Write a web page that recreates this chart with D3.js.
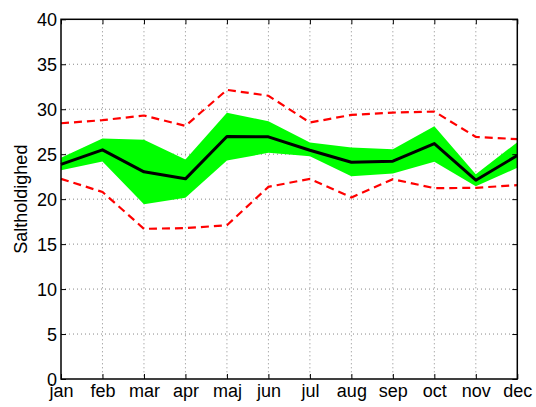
<!DOCTYPE html>
<html><head><meta charset="utf-8">
<script src="https://cdn.jsdelivr.net/npm/d3@7"></script>
<style>body{margin:0;background:#fff}svg{display:block}text{font-family:"Liberation Sans",Arial,sans-serif}</style>
</head><body>
<script>
const months = ["jan","feb","mar","apr","maj","jun","jul","aug","sep","oct","nov","dec"];
const meanVals = [23.86,25.48,23.04,22.26,26.96,26.93,25.44,24.11,24.22,26.18,22.11,24.85];
const bandUpper = [24.6,26.74,26.6,24.4,29.6,28.67,26.3,25.74,25.55,28.1,22.78,26.33];
const bandLower = [23.2,24.2,19.44,20.15,24.3,25.15,24.78,22.55,22.85,24.15,21.44,23.48];
const redUpper = [28.44,28.78,29.3,28.15,32.15,31.5,28.52,29.37,29.63,29.74,26.93,26.67];
const redLower = [22.26,20.8,16.7,16.78,17.1,21.37,22.26,20.19,22.22,21.22,21.26,21.56];
const yTicks = [0,5,10,15,20,25,30,35,40];
const yLabel = "Saltholdighed";

const W=536,H=407, L=61, R=517.3, T=19.3, B=379;
const FS=18;
const svg=d3.select("body").append("svg").attr("width",W).attr("height",H);
const x=d3.scalePoint().domain(months).range([L,R]);
const y=d3.scaleLinear().domain([0,40]).range([B,T]);

// grid
const g=svg.append("g");
g.selectAll(".vg").data(months.slice(1,-1)).enter().append("line")
 .attr("x1",d=>x(d)).attr("x2",d=>x(d)).attr("y1",T).attr("y2",B)
 .attr("stroke","#888").attr("stroke-width",1).attr("stroke-dasharray","1,3");
g.selectAll(".hg").data(yTicks.slice(1,-1)).enter().append("line")
 .attr("x1",L).attr("x2",R).attr("y1",d=>y(d)).attr("y2",d=>y(d))
 .attr("stroke","#888").attr("stroke-width",1).attr("stroke-dasharray","1,3");

const idx=d3.range(months.length);
svg.append("path").datum(idx)
 .attr("d",d3.area().x(i=>x(months[i])).y0(i=>y(bandLower[i])).y1(i=>y(bandUpper[i])))
 .attr("fill","#00ff00");
const line=arr=>d3.line().x(i=>x(months[i])).y(i=>y(arr[i]));
[redUpper,redLower].forEach(a=>{
 svg.append("path").datum(idx).attr("d",line(a)).attr("fill","none")
  .attr("stroke","#ff0000").attr("stroke-width",2.2).attr("stroke-dasharray","8,5");
});
svg.append("path").datum(idx).attr("d",line(meanVals)).attr("fill","none")
 .attr("stroke","#000").attr("stroke-width",3).attr("stroke-linejoin","round");

// box
svg.append("rect").attr("x",L).attr("y",T).attr("width",R-L).attr("height",B-T)
 .attr("fill","none").attr("stroke","#000").attr("stroke-width",1.5);

// axes
const yAx=d3.axisLeft(y).tickValues(yTicks).tickSize(-5).tickPadding(4);
const ya=svg.append("g").attr("transform",`translate(${L},0)`).call(yAx);
ya.select(".domain").remove();
ya.selectAll("text").attr("font-size",FS).attr("fill","#000").attr("dy","0.35em");
ya.selectAll("line").attr("stroke","#000");
const yr=svg.append("g").attr("transform",`translate(${R},0)`).call(d3.axisRight(y).tickValues(yTicks).tickSize(-5).tickFormat(""));
yr.select(".domain").remove(); yr.selectAll("line").attr("stroke","#000");

const xAx=d3.axisBottom(x).tickSize(-5).tickPadding(5);
const xa=svg.append("g").attr("transform",`translate(0,${B})`).call(xAx);
xa.select(".domain").remove();
xa.selectAll("text").attr("font-size",FS).attr("fill","#000").attr("dy","0.71em");
xa.selectAll("line").attr("stroke","#000");
const xt=svg.append("g").attr("transform",`translate(0,${T})`).call(d3.axisTop(x).tickSize(-5).tickFormat(""));
xt.select(".domain").remove(); xt.selectAll("line").attr("stroke","#000");

svg.append("text").attr("transform",`translate(27,${(T+B)/2}) rotate(-90)`)
 .attr("text-anchor","middle").attr("font-size",FS).text(yLabel);
</script>
</body></html>
